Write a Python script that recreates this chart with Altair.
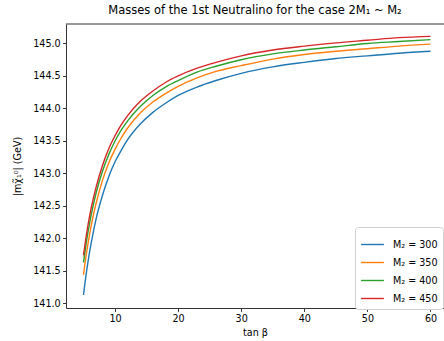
import altair as alt
import pandas as pd

tan_beta = [5, 5.5, 6, 6.5, 7, 8, 9, 10, 11, 12, 14, 16, 18, 20, 23, 26, 30, 35, 40, 45, 50, 55, 60]

m_300 = [141.13, 141.50, 141.81, 142.07, 142.30, 142.66, 142.95, 143.18, 143.36, 143.52, 143.76, 143.94,
         144.08, 144.20, 144.33, 144.43, 144.54, 144.64, 144.71, 144.77, 144.81, 144.85, 144.88]
m_350 = [141.44, 141.79, 142.08, 142.33, 142.54, 142.89, 143.16, 143.37, 143.55, 143.70, 143.93, 144.10,
         144.23, 144.34, 144.47, 144.57, 144.66, 144.76, 144.83, 144.88, 144.92, 144.96, 144.99]
m_400 = [141.63, 141.97, 142.25, 142.49, 142.70, 143.03, 143.29, 143.50, 143.67, 143.81, 144.03, 144.20,
         144.33, 144.43, 144.56, 144.65, 144.75, 144.84, 144.90, 144.95, 145.00, 145.03, 145.06]
m_450 = [141.74, 142.08, 142.36, 142.59, 142.79, 143.12, 143.38, 143.58, 143.75, 143.89, 144.11, 144.27,
         144.40, 144.50, 144.62, 144.71, 144.81, 144.90, 144.96, 145.01, 145.05, 145.09, 145.11]

series_labels = ["M₂ = 300", "M₂ = 350", "M₂ = 400", "M₂ = 450"]
series_values = [m_300, m_350, m_400, m_450]
colors = ["#1f77b4", "#ff7f0e", "#2ca02c", "#d62728"]

x_ticks = [10, 20, 30, 40, 50, 60]
y_ticks = [141.0, 141.5, 142.0, 142.5, 143.0, 143.5, 144.0, 144.5, 145.0]

rows = []
for lab, vals in zip(series_labels, series_values):
    for t, v in zip(tan_beta, vals):
        rows.append({"tb": t, "m": v, "series": lab})
df = pd.DataFrame(rows)

FONT = "DejaVu Sans"
W, H = 378, 284

lines = alt.Chart(df).mark_line(strokeWidth=1.4, interpolate="monotone").encode(
    x=alt.X("tb:Q", scale=alt.Scale(domain=[2.23, 62.14], nice=False, zero=False),
            axis=alt.Axis(values=x_ticks, format="d", title="tan β")),
    y=alt.Y("m:Q", scale=alt.Scale(domain=[140.93, 145.30], nice=False, zero=False),
            axis=alt.Axis(values=y_ticks, format=".1f", title="|mχ̃₁⁰| (GeV)")),
    color=alt.Color("series:N", sort=series_labels,
                    scale=alt.Scale(domain=series_labels, range=colors),
                    legend=alt.Legend(title=None, orient="none", legendX=289, legendY=203,
                                      symbolType="stroke", symbolSize=520, symbolStrokeWidth=1.4,
                                      labelFontSize=9.6, labelFont=FONT, labelColor="black",
                                      rowPadding=-3, padding=5, strokeColor="#d0d0d0",
                                      fillColor="white", cornerRadius=3, labelOffset=8)),
)

top_spine = alt.Chart(pd.DataFrame({"a": [0]})).mark_rule(color="#333333", strokeWidth=1).encode(
    x=alt.value(0), x2=alt.value(W), y=alt.value(0)
)

chart = alt.layer(lines, top_spine).properties(
    width=W, height=H,
    title=alt.TitleParams("Masses of the 1st Neutralino for the case 2M₁ ~ M₂",
                          font=FONT, fontSize=11.5, fontWeight="normal", color="black",
                          anchor="middle", offset=7),
    autosize=alt.AutoSizeParams(type="none"),
    padding={"left": 66, "top": 24, "right": 0, "bottom": 33},
).configure_view(stroke=None).configure_axis(
    grid=False, domainColor="#333333", domainWidth=1, tickColor="#333333", tickSize=3.4,
    labelFont=FONT, labelFontSize=9.6, labelColor="black", labelPadding=2.4,
    titleFont=FONT, titleFontSize=9.6, titleFontWeight="normal", titleColor="black",
).configure_axisY(titlePadding=10).configure_axisX(titlePadding=4)

chart.save("out.html", embed_options={"renderer": "svg", "actions": False})
